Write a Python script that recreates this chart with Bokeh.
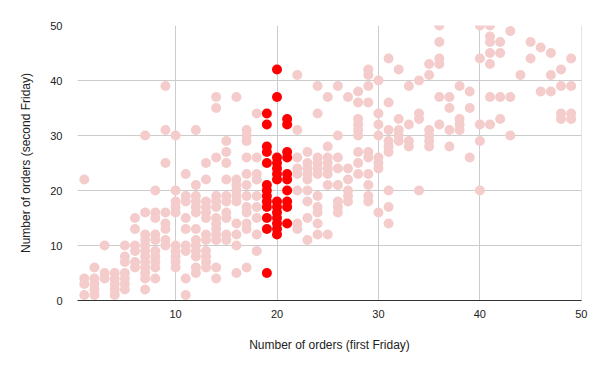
from bokeh.plotting import figure
from bokeh.models import Range1d, FixedTicker, ColumnDataSource
from bokeh.embed import file_html
from bokeh.resources import INLINE

# Number of orders on the first Friday (x) and second Friday (y), other stores
other_first_friday = [1, 2, 3, 4, 5, 6, 7, 8, 9, 10, 11, 12, 13, 14, 15, 16, 17, 18,
                      22, 23, 24, 25, 26, 27, 28, 29, 30, 31, 32, 33, 34, 35, 36, 37,
                      38, 39, 40, 41, 42, 43, 44, 45, 46, 47, 48, 49]
other_second_friday = [
    [22, 4, 3, 1],
    [6, 4, 3, 2, 1],
    [10, 5, 4],
    [5, 4, 3, 2, 1],
    [10, 8, 7, 5, 4, 3, 2],
    [15, 13, 10, 9, 7, 6],
    [30, 16, 12, 11, 10, 9, 8, 7, 6, 5, 4, 2],
    [20, 16, 15, 12, 11, 9, 8, 7, 6, 4],
    [39, 31, 25, 16, 14, 13, 11, 10],
    [30, 20, 18, 17, 16, 10, 9, 8, 7, 6],
    [23, 19, 18, 15, 13, 10, 9, 4, 1],
    [31, 21, 19, 18, 17, 16, 13, 11, 10, 9, 8, 6, 5],
    [25, 22, 18, 17, 16, 15, 12, 11, 9, 8, 7, 6],
    [37, 35, 26, 19, 18, 17, 15, 14, 13, 12, 11, 6, 4],
    [29, 27, 25, 22, 19, 18, 16, 15, 12, 11],
    [37, 22, 21, 20, 19, 18, 14, 12, 10, 5],
    [31, 30, 29, 26, 23, 21, 19, 17, 16, 14, 13, 6],
    [34, 26, 23, 22, 19, 17, 15, 12, 9],
    [41, 31, 26, 24, 23, 20, 14, 13],
    [27, 25, 24, 23, 22, 20, 18, 15, 11],
    [39, 34, 26, 25, 24, 23, 19, 17, 16, 14, 12],
    [37, 28, 26, 25, 24, 23, 21, 12],
    [39, 30, 26, 24, 21, 18, 17, 16],
    [37, 24, 22, 20, 19, 18],
    [38, 36, 33, 32, 31, 30, 27, 25, 23],
    [42, 41, 39, 36, 27, 26, 23, 21, 19, 18],
    [40, 34, 32, 30, 26, 25, 24, 16],
    [44, 36, 31, 29, 28, 27, 20, 17, 14],
    [42, 33, 31, 30, 29],
    [39, 32, 29, 28],
    [40, 34, 33, 20],
    [43, 41, 31, 30, 29, 28],
    [50, 47, 44, 43, 37, 32],
    [37, 35, 31, 28],
    [39, 33, 32, 31],
    [38, 35, 26],
    [50, 44, 32, 29, 20],
    [50, 48, 47, 45, 43, 37, 32],
    [47, 45, 37, 33],
    [49, 37, 30],
    [41],
    [47, 44],
    [46, 38],
    [45, 41, 38],
    [42, 39, 34, 33],
    [44, 39, 34, 33],
]

# Highlighted stores (first Friday 19-21)
highlight_first_friday = [19, 20, 21]
highlight_second_friday = [
    [34, 32, 28, 27, 25, 21, 20, 19, 18, 17, 15, 13, 5],
    [42, 37, 26, 25, 24, 23, 22, 18, 17, 16, 15, 14, 13, 12],
    [33, 32, 27, 26, 23, 22, 20, 18, 17, 14],
]

x_ticks = [10, 20, 30, 40, 50]
y_ticks = [0, 10, 20, 30, 40, 50]
x_title = "Number of orders (first Friday)"
y_title = "Number of orders (second Friday)"


def flatten(xs, yss):
    fx, fy = [], []
    for x, ys in zip(xs, yss):
        for y in ys:
            fx.append(x)
            fy.append(y)
    return dict(x=fx, y=fy)


other_src = ColumnDataSource(flatten(other_first_friday, other_second_friday))
hl_src = ColumnDataSource(flatten(highlight_first_friday, highlight_second_friday))

FONT = "Liberation Sans"
TXT = "#222222"

p = figure(width=600, height=371, output_backend="svg", toolbar_location=None,
           x_range=Range1d(0.33, 50.02), y_range=Range1d(0, 50),
           min_border_left=77, min_border_right=19, min_border_top=25,
           min_border_bottom=71)
p.outline_line_color = None
p.background_fill_color = "white"
p.border_fill_color = "white"

p.scatter("x", "y", source=other_src, size=10, fill_color="#f4cccc",
          line_color=None)
p.scatter("x", "y", source=hl_src, size=10, fill_color="#ff0000",
          line_color=None)

p.xaxis.ticker = FixedTicker(ticks=x_ticks)
p.yaxis.ticker = FixedTicker(ticks=y_ticks)
p.xgrid.ticker = FixedTicker(ticks=x_ticks)
p.ygrid.ticker = FixedTicker(ticks=y_ticks)
p.grid.grid_line_color = "#cccccc"
p.grid.grid_line_width = 1

for ax in (p.xaxis[0], p.yaxis[0]):
    ax.major_tick_line_color = None
    ax.minor_tick_line_color = None
    ax.major_tick_out = 0
    ax.major_tick_in = 0
    ax.major_label_text_font = FONT
    ax.major_label_text_font_size = "11px"
    ax.major_label_text_color = TXT
    ax.axis_label_text_font = FONT
    ax.axis_label_text_font_size = "12px"
    ax.axis_label_text_font_style = "normal"
    ax.axis_label_text_color = TXT

p.xaxis.axis_label = x_title
p.yaxis.axis_label = y_title
p.xaxis.axis_line_color = "#333333"
p.yaxis.axis_line_color = None
p.xaxis.major_label_standoff = 9
p.yaxis.major_label_standoff = 15
p.xaxis.axis_label_standoff = 17
p.yaxis.axis_label_standoff = 14

open("out.html", "w").write(file_html(p, INLINE))
